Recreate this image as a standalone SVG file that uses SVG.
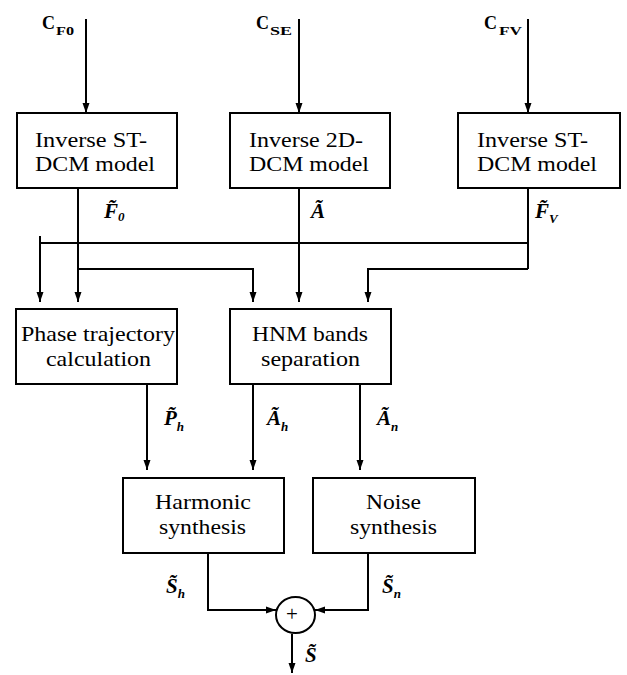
<svg xmlns="http://www.w3.org/2000/svg" width="627" height="675" viewBox="0 0 627 675" font-family="'Liberation Serif', LiberationSerif, Tinos, 'Nimbus Roman', 'Nimbus Roman No9 L', FreeSerif, 'Noto Serif', Times, 'DejaVu Serif', serif">
<defs>
<marker id="ah" markerUnits="userSpaceOnUse" markerWidth="10" markerHeight="10" viewBox="0 0 10 10" refX="10" refY="5" orient="auto">
<path d="M0,1.5 L10,5 L0,8.5 Z" fill="#000"/>
</marker>
</defs>
<style>
.box{fill:#fff;stroke:#000;stroke-width:2}
.t{font-size:21px}
.ln{fill:none;stroke:#000;stroke-width:2}
.ar{fill:none;stroke:#000;stroke-width:2;marker-end:url(#ah)}
.m{font-weight:bold;font-style:italic;font-size:21px}
.sub{font-weight:bold;font-style:italic;font-size:13px}
.cb{font-weight:bold;font-size:18px}
.cs{font-weight:bold;font-size:12px}
</style>
<rect width="627" height="675" fill="#fff"/>

<g id="connectors">
<line class="ar" x1="86" y1="19" x2="86" y2="113"/>
<line class="ar" x1="299" y1="19" x2="299" y2="113"/>
<line class="ar" x1="528" y1="19" x2="528" y2="113"/>
<line class="ln" x1="40" y1="243" x2="528" y2="243"/>
<line class="ar" x1="40" y1="236" x2="40" y2="302"/>
<line class="ar" x1="78" y1="188" x2="78" y2="302"/>
<polyline class="ar" points="78,269 253,269 253,302"/>
<line class="ar" x1="299" y1="188" x2="299" y2="302"/>
<line class="ln" x1="528" y1="188" x2="528" y2="269"/>
<polyline class="ar" points="528,269 368,269 368,302"/>
<line class="ar" x1="147" y1="384" x2="147" y2="470"/>
<line class="ar" x1="253" y1="384" x2="253" y2="470"/>
<line class="ar" x1="360" y1="384" x2="360" y2="470"/>
<polyline class="ar" points="208,553 208,610 276,610"/>
<polyline class="ar" points="368,553 368,610 315,610"/>
<line class="ar" x1="292" y1="634" x2="292" y2="673"/>
</g>

<g id="inputs">
<text class="cb" x="42" y="29">C</text><text class="cs" x="56" y="35" textLength="18" lengthAdjust="spacingAndGlyphs">F0</text>
<text class="cb" x="256" y="29">C</text><text class="cs" x="270" y="35" textLength="22" lengthAdjust="spacingAndGlyphs">SE</text>
<text class="cb" x="484" y="29">C</text><text class="cs" x="499" y="35" textLength="23" lengthAdjust="spacingAndGlyphs">FV</text>
</g>

<g id="inv1">
<rect class="box" x="17" y="113" width="160" height="75"/>
<text class="t" x="35" y="147" textLength="112" lengthAdjust="spacingAndGlyphs">Inverse ST-</text>
<text class="t" x="35" y="171" textLength="120" lengthAdjust="spacingAndGlyphs">DCM model</text>
</g>
<g id="inv2">
<rect class="box" x="230" y="113" width="160" height="75"/>
<text class="t" x="249" y="147" textLength="114" lengthAdjust="spacingAndGlyphs">Inverse 2D-</text>
<text class="t" x="249" y="171" textLength="120" lengthAdjust="spacingAndGlyphs">DCM model</text>
</g>
<g id="inv3">
<rect class="box" x="458" y="113" width="162" height="75"/>
<text class="t" x="477" y="147" textLength="111" lengthAdjust="spacingAndGlyphs">Inverse ST-</text>
<text class="t" x="477" y="171" textLength="120" lengthAdjust="spacingAndGlyphs">DCM model</text>
</g>
<g id="phase">
<rect class="box" x="16" y="309" width="161" height="75"/>
<text class="t" x="21" y="341" textLength="154" lengthAdjust="spacingAndGlyphs">Phase trajectory</text>
<text class="t" x="46" y="366" textLength="105" lengthAdjust="spacingAndGlyphs">calculation</text>
</g>
<g id="hnm">
<rect class="box" x="230" y="309" width="161" height="75"/>
<text class="t" x="252" y="341" textLength="116" lengthAdjust="spacingAndGlyphs">HNM bands</text>
<text class="t" x="261" y="366" textLength="99" lengthAdjust="spacingAndGlyphs">separation</text>
</g>
<g id="harmonic">
<rect class="box" x="123" y="478" width="161" height="75"/>
<text class="t" x="155" y="509" textLength="96" lengthAdjust="spacingAndGlyphs">Harmonic</text>
<text class="t" x="159" y="534" textLength="87" lengthAdjust="spacingAndGlyphs">synthesis</text>
</g>
<g id="noise">
<rect class="box" x="313" y="478" width="162" height="75"/>
<text class="t" x="366" y="509" textLength="55" lengthAdjust="spacingAndGlyphs">Noise</text>
<text class="t" x="350" y="534" textLength="87" lengthAdjust="spacingAndGlyphs">synthesis</text>
</g>
<g id="sum">
<ellipse cx="295.5" cy="615" rx="19.5" ry="18" fill="#fff" stroke="#000" stroke-width="2"/>
<text x="292" y="621" font-size="21" text-anchor="middle">+</text>
</g>

<g id="labels">
<text class="m" x="104" y="218">F̃<tspan class="sub" dy="3">0</tspan></text>
<text class="m" x="311" y="218">Ã</text>
<text class="m" x="535" y="218">F̃<tspan class="sub" dy="5">V</tspan></text>
<text class="m" x="164" y="425">P̃<tspan class="sub" dy="6">h</tspan></text>
<text class="m" x="267" y="425">Ã<tspan class="sub" dy="6">h</tspan></text>
<text class="m" x="377" y="425">Ã<tspan class="sub" dy="6">n</tspan></text>
<text class="m" x="166" y="593">S̃<tspan class="sub" dy="5">h</tspan></text>
<text class="m" x="382" y="593">S̃<tspan class="sub" dy="5">n</tspan></text>
<text class="m" x="305" y="662">S̃</text>
</g>
</svg>
